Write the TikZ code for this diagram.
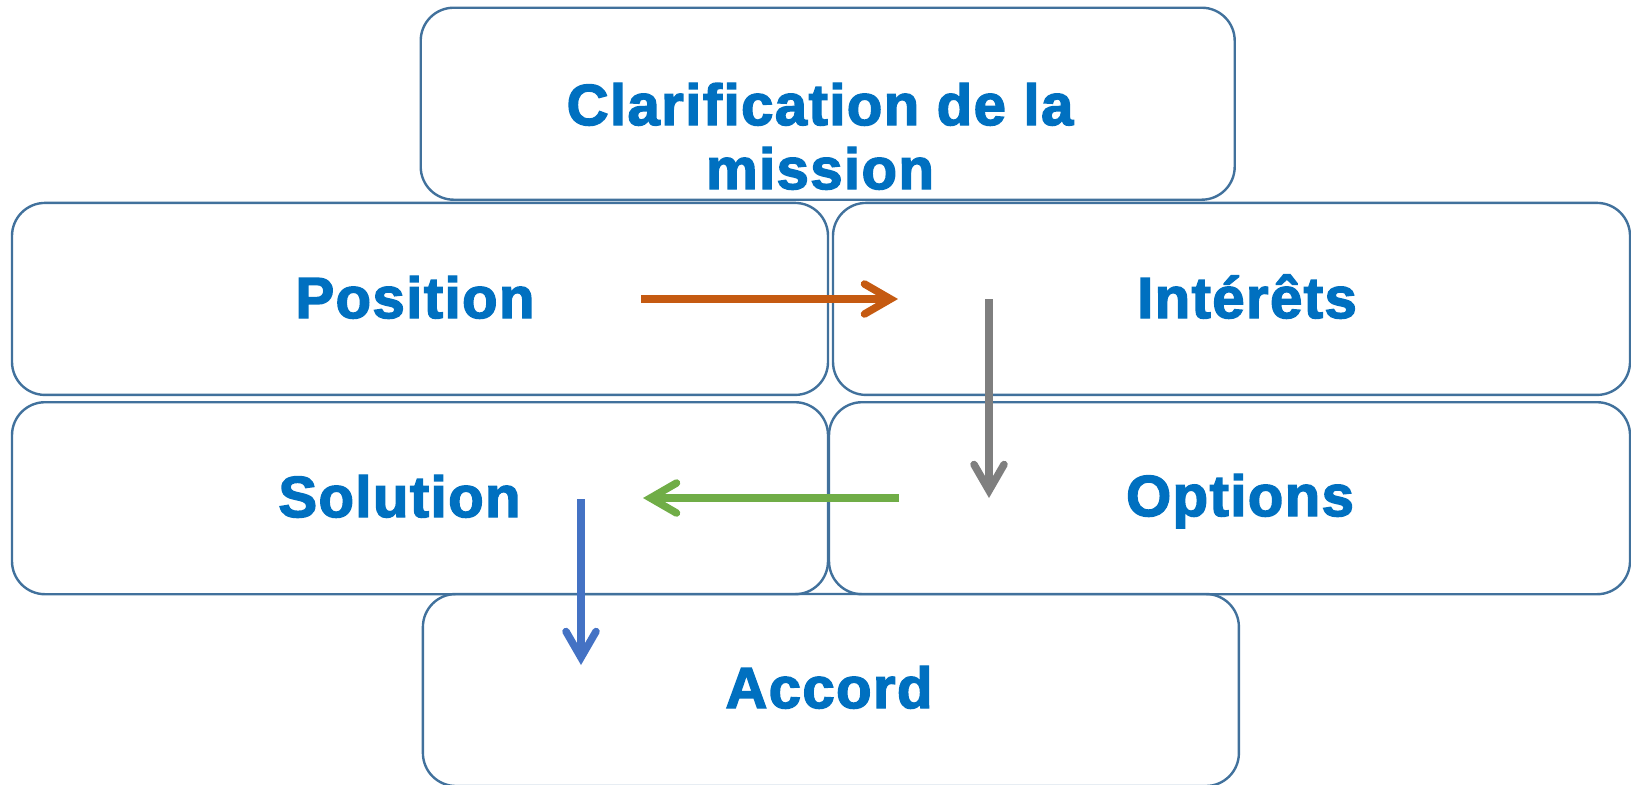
\documentclass[tikz,border=0pt]{standalone}
\usepackage{fontspec}
\setmainfont{Liberation Sans}[BoldFeatures={FakeBold=2.5,LetterSpace=2.5}]
\usetikzlibrary{arrows.meta}
\definecolor{boxline}{HTML}{41719C}
\definecolor{textblue}{HTML}{0070C0}
\definecolor{arrorange}{HTML}{C55A11}
\definecolor{arrgreen}{HTML}{70AD47}
\definecolor{arrgray}{HTML}{7F7F7F}
\definecolor{arrblue}{HTML}{4472C4}
\begin{document}
\begin{tikzpicture}[x=0.5pt, y=-0.5pt,
    box/.style={draw=boxline, line width=1.2pt, rounded corners=16.5pt, inner sep=0pt, minimum height=96pt},
    word/.style={text=textblue, font=\bfseries\fontsize{29pt}{32pt}\selectfont, inner sep=0pt, anchor=base, align=center},
    flow/.style={line width=3.75pt, -{Straight Barb[length=13pt,width=15pt,line cap=round,line join=miter]}}]
    \useasboundingbox (0,0) rectangle (1631,784);
    % boxes
    \node[box, minimum width=407pt] (clar) at (827.7,103.7) {};
    \node[box, minimum width=408pt] (pos) at (420,298.9) {};
    \node[box, minimum width=398.5pt] (int) at (1231.5,298.9) {};
    \node[box, minimum width=408pt] (sol) at (420,498.2) {};
    \node[box, minimum width=400.5pt] (opt) at (1229.5,498.2) {};
    \node[box, minimum width=408pt] (acc) at (830.9,690) {};
    % texts
    \node[word] (clarT) at (820,189) {Clarification de la\\mission};
    \node[word] (posT) at (415,318) {Position};
    \node[word] (intT) at (1247,318) {Intérêts};
    \node[word] (solT) at (399.5,517) {Solution};
    \node[word] (optT) at (1240,516) {Options};
    \node[word] (accT) at (829,708) {Accord};
    % arrows
    \coordinate (o1) at (641,299);
    \coordinate (o2) at (898,299);
    \coordinate (g1) at (989,299);
    \coordinate (g2) at (989,498);
    \coordinate (v1) at (899,498);
    \coordinate (v2) at (643,498);
    \coordinate (b1) at (581,499);
    \coordinate (b2) at (581,665);
    \draw[flow, arrorange] (o1) -- (o2);
    \draw[flow, arrgray] (g1) -- (g2);
    \draw[flow, arrgreen] (v1) -- (v2);
    \draw[flow, arrblue] (b1) -- (b2);
\end{tikzpicture}
\end{document}
